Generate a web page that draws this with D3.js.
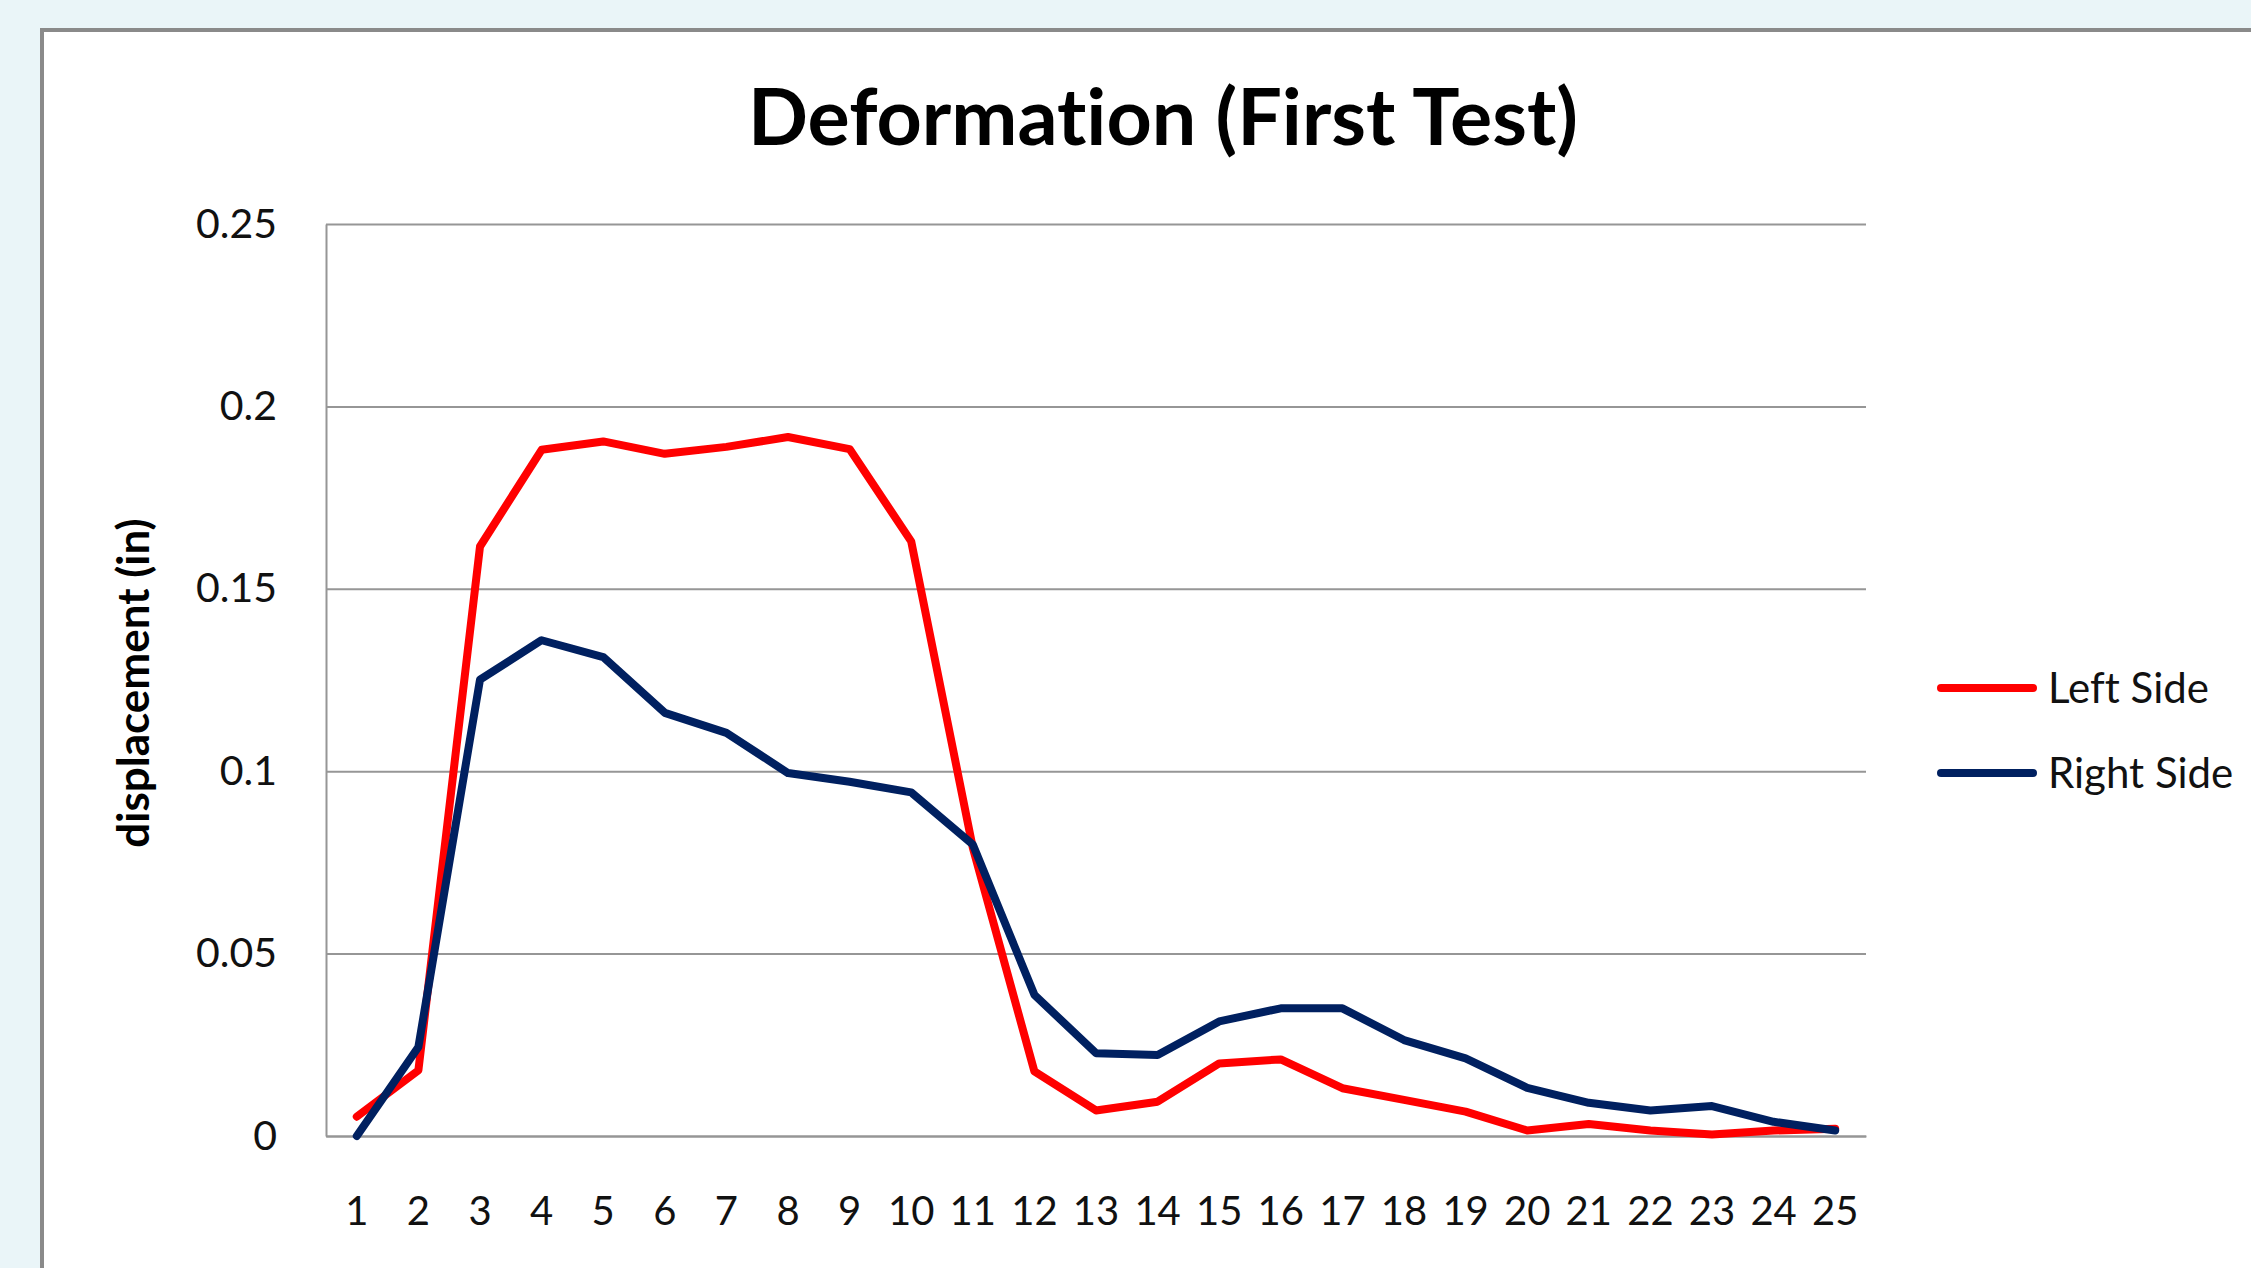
<!DOCTYPE html>
<html>
<head>
<meta charset="utf-8">
<script src="https://cdn.jsdelivr.net/npm/d3@7"></script>
<style>
  html, body { margin: 0; padding: 0; background: #eaf5f8; overflow: hidden; }
  svg { display: block; }
  text { font-variant-ligatures: none; }
</style>
</head>
<body>
<script>
// chart values
var categories = d3.range(1, 26);
var leftSide = [0.0053, 0.018, 0.1616, 0.1881, 0.1904, 0.187, 0.1889, 0.1916, 0.1883, 0.163,
                0.079, 0.0177, 0.007, 0.0094, 0.0199, 0.021, 0.0131, 0.0099, 0.0067, 0.0015,
                0.0033, 0.0015, 0.0004, 0.0015, 0.002];
var rightSide = [0.0, 0.0244, 0.1251, 0.1359, 0.1313, 0.116, 0.1105, 0.0995, 0.0971, 0.0942,
                 0.0799, 0.0387, 0.0227, 0.0222, 0.0314, 0.035, 0.035, 0.0263, 0.0213, 0.0132,
                 0.0091, 0.007, 0.0082, 0.0039, 0.0015];
var yTicks = [0, 0.05, 0.1, 0.15, 0.2, 0.25];
var yTickLabels = ["0", "0.05", "0.1", "0.15", "0.2", "0.25"];
var seriesNames = ["Left Side", "Right Side"];
var seriesColors = ["#ff0000", "#002060"];

var width = 2251, height = 1268;
var plot = {left: 326, right: 1866, top: 224, bottom: 1136};
var font = "Lato, 'Open Sans', sans-serif";

var svg = d3.select("body").append("svg")
    .attr("width", width)
    .attr("height", height);

// chart frame
svg.append("rect")
    .attr("x", 42)
    .attr("y", 30)
    .attr("width", width)
    .attr("height", height)
    .attr("fill", "#ffffff")
    .attr("stroke", "#8a8a8a")
    .attr("stroke-width", 4);

var x = d3.scaleBand()
    .domain(categories)
    .range([plot.left, plot.right])
    .padding(0);

var y = d3.scaleLinear()
    .domain([0, 0.25])
    .range([plot.bottom, plot.top]);

// y axis with gridlines
var yAxis = svg.append("g")
    .attr("transform", "translate(" + plot.left + ",0)")
    .call(d3.axisLeft(y)
        .tickValues(yTicks)
        .tickFormat(function (d, i) { return yTickLabels[i]; })
        .tickSize(-(plot.right - plot.left))
        .tickSizeOuter(0)
        .tickPadding(49));
yAxis.selectAll(".tick line")
    .attr("stroke", "#969696")
    .attr("stroke-width", 2);
yAxis.select(".domain")
    .attr("stroke", "#969696")
    .attr("stroke-width", 2);
yAxis.selectAll("text")
    .style("font-family", font)
    .style("font-size", "41px")
    .attr("fill", "#111");

// x axis
var xAxis = svg.append("g")
    .attr("transform", "translate(0," + plot.bottom + ")")
    .call(d3.axisBottom(x)
        .tickSize(0)
        .tickPadding(61));
xAxis.select(".domain")
    .attr("stroke", "#969696")
    .attr("stroke-width", 2);
xAxis.selectAll("text")
    .style("font-family", font)
    .style("font-size", "40px")
    .attr("fill", "#111");

// lines
var line = d3.line()
    .x(function (d, i) { return x(categories[i]) + x.bandwidth() / 2; })
    .y(function (d) { return y(d); });

[leftSide, rightSide].forEach(function (values, k) {
    svg.append("path")
        .datum(values)
        .attr("d", line)
        .attr("fill", "none")
        .attr("stroke", seriesColors[k])
        .attr("stroke-width", 8)
        .attr("stroke-linejoin", "round")
        .attr("stroke-linecap", "round");
});

// title
svg.append("text")
    .attr("x", 1163)
    .attr("y", 145)
    .attr("text-anchor", "middle")
    .style("font-family", font)
    .style("font-weight", "bold")
    .style("font-size", "79px")
    .text("Deformation (First Test)");

// axis title
svg.append("text")
    .attr("transform", "translate(149,683) rotate(-90)")
    .attr("text-anchor", "middle")
    .style("font-family", font)
    .style("font-weight", "bold")
    .style("font-size", "44px")
    .text("displacement (in)");

// legend
var legend = svg.selectAll(".legend")
    .data(seriesNames)
    .enter().append("g")
    .attr("class", "legend")
    .attr("transform", function (d, i) { return "translate(0," + (688 + i * 85) + ")"; });

legend.append("line")
    .attr("x1", 1941)
    .attr("x2", 2033)
    .attr("stroke", function (d, i) { return seriesColors[i]; })
    .attr("stroke-width", 8)
    .attr("stroke-linecap", "round");

legend.append("text")
    .attr("x", 2048)
    .attr("y", 15)
    .style("font-family", font)
    .style("font-size", "42px")
    .attr("fill", "#111")
    .text(function (d) { return d; });
</script>
</body>
</html>
